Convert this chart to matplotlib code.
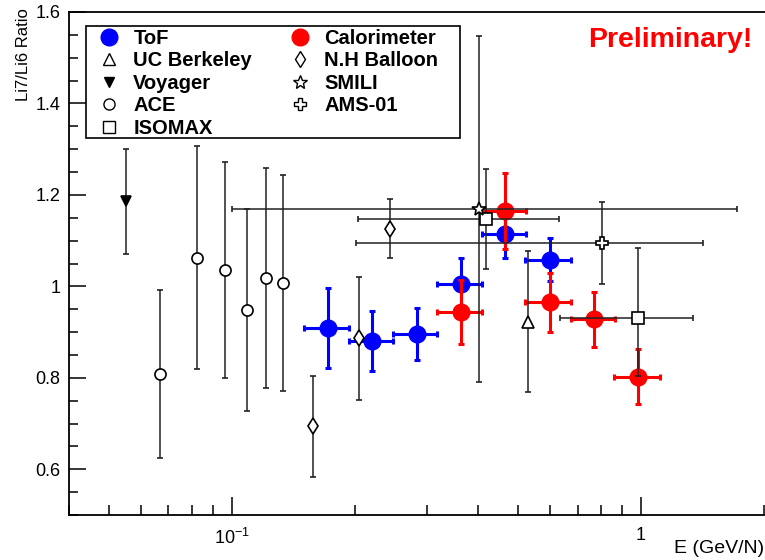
#!/usr/bin/env python3
"""Li7/Li6 isotope ratio versus kinetic energy per nucleon."""

import matplotlib
matplotlib.use('Agg')
from matplotlib import pyplot as plt
from matplotlib.lines import Line2D
from matplotlib.patches import Rectangle
from matplotlib.ticker import (FixedLocator, FixedFormatter, LogLocator,
                               MultipleLocator, NullFormatter, FuncFormatter)
import numpy as np


# ToF: energy bins, ratio and symmetric error
TOF_E = [0.1715, 0.2203, 0.2831, 0.3633, 0.4662, 0.5981]
TOF_LO = [0.150, 0.193, 0.248, 0.317, 0.408, 0.522]
TOF_HI = [0.193, 0.248, 0.318, 0.409, 0.525, 0.676]
TOF_RATIO = [0.909, 0.880, 0.896, 1.006, 1.115, 1.058]
TOF_ERR = [0.087, 0.066, 0.056, 0.055, 0.053, 0.047]

# Calorimeter
CAL_E = [0.3633, 0.4662, 0.5981, 0.7664, 0.985]
CAL_LO = [0.317, 0.408, 0.522, 0.673, 0.861]
CAL_HI = [0.409, 0.525, 0.676, 0.864, 1.113]
CAL_RATIO = [0.944, 1.165, 0.965, 0.928, 0.802]
CAL_ERR = [0.071, 0.084, 0.065, 0.060, 0.060]

# Earlier measurements: ratio with lower / upper error bar ends
UCB_E, UCB_RATIO, UCB_LOW, UCB_HIGH = [0.5285], [0.922], [0.770], [1.078]
VOY_E, VOY_RATIO, VOY_LOW, VOY_HIGH = [0.0550], [1.187], [1.070], [1.301]

ACE_E = [0.0669, 0.0821, 0.0962, 0.1092, 0.1213, 0.1332]
ACE_RATIO = [0.808, 1.063, 1.036, 0.948, 1.019, 1.008]
ACE_LOW = [0.625, 0.820, 0.800, 0.727, 0.778, 0.772]
ACE_HIGH = [0.992, 1.307, 1.272, 1.169, 1.259, 1.244]

NH_E = [0.1582, 0.2046, 0.2435]
NH_RATIO = [0.695, 0.886, 1.126]
NH_LOW = [0.583, 0.751, 1.061]
NH_HIGH = [0.803, 1.020, 1.192]

ISO_E = [0.4182, 0.9815]
ISO_LO = [0.2039, 0.633]
ISO_HI = [0.6316, 1.338]
ISO_RATIO = [1.147, 0.930]
ISO_LOW = [1.039, 0.805]
ISO_HIGH = [1.257, 1.083]

SMILI_E, SMILI_LO, SMILI_HI = [0.4019], [0.1003], [1.713]
SMILI_RATIO, SMILI_LOW, SMILI_HIGH = [1.169], [0.791], [1.548]

AMS_E, AMS_LO, AMS_HI = [0.8031], [0.2009], [1.415]
AMS_RATIO, AMS_LOW, AMS_HIGH = [1.095], [1.005], [1.184]

LABELS = ['ToF', 'UC Berkeley', 'Voyager', 'ACE', 'ISOMAX',
          'Calorimeter', 'N.H Balloon', 'SMILI', 'AMS-01']


def xerr(e, lo, hi):
    e = np.asarray(e)
    return [e - np.asarray(lo), np.asarray(hi) - e]


def yerr(r, low, high):
    r = np.asarray(r)
    return [r - np.asarray(low), np.asarray(high) - r]


def main():
    plt.rcParams['font.family'] = ['Liberation Sans', 'DejaVu Sans']
    plt.rcParams['mathtext.fontset'] = 'custom'
    plt.rcParams['mathtext.rm'] = 'Liberation Sans'
    plt.rcParams['mathtext.it'] = 'Liberation Sans'

    fig = plt.figure(figsize=(7.65, 5.6), dpi=100)
    ax = fig.add_axes([69 / 765, 45 / 560, 696 / 765, 503 / 560])

    big = dict(ls='none', lw=2.2, capsize=2.5, capthick=2.2, ms=12)
    ax.errorbar(TOF_E, TOF_RATIO, xerr=xerr(TOF_E, TOF_LO, TOF_HI),
                yerr=TOF_ERR, fmt='o', color='blue', zorder=3, **big)
    ax.errorbar(CAL_E, CAL_RATIO, xerr=xerr(CAL_E, CAL_LO, CAL_HI),
                yerr=CAL_ERR, fmt='o', color='red', zorder=4, **big)

    thin = dict(ls='none', color='black', ecolor='#222222', elinewidth=1.1,
                capsize=2.5, capthick=1.1, mfc='white', mec='black',
                mew=1.2, zorder=5)
    ax.errorbar(UCB_E, UCB_RATIO, yerr=yerr(UCB_RATIO, UCB_LOW, UCB_HIGH),
                marker='^', ms=8, **thin)
    ax.errorbar(VOY_E, VOY_RATIO, yerr=yerr(VOY_RATIO, VOY_LOW, VOY_HIGH),
                marker='v', ms=7.5, **{**thin, 'mfc': 'black'})
    ax.errorbar(ACE_E, ACE_RATIO, yerr=yerr(ACE_RATIO, ACE_LOW, ACE_HIGH),
                marker='o', ms=8, **thin)
    ax.errorbar(NH_E, NH_RATIO, yerr=yerr(NH_RATIO, NH_LOW, NH_HIGH),
                marker='d', ms=8, **thin)
    ax.errorbar(ISO_E, ISO_RATIO, xerr=xerr(ISO_E, ISO_LO, ISO_HI),
                yerr=yerr(ISO_RATIO, ISO_LOW, ISO_HIGH),
                marker='s', ms=8.5, **thin)
    ax.errorbar(SMILI_E, SMILI_RATIO, xerr=xerr(SMILI_E, SMILI_LO, SMILI_HI),
                yerr=yerr(SMILI_RATIO, SMILI_LOW, SMILI_HIGH),
                marker='*', ms=10, **thin)
    ax.errorbar(AMS_E, AMS_RATIO, xerr=xerr(AMS_E, AMS_LO, AMS_HI),
                yerr=yerr(AMS_RATIO, AMS_LOW, AMS_HIGH),
                marker='P', ms=9, **thin)

    ax.set_xscale('log')
    ax.set_xlim(0.04, 2.01)
    ax.set_ylim(0.5, 1.6)

    ax.xaxis.set_major_locator(FixedLocator([0.1, 1]))
    ax.xaxis.set_major_formatter(FixedFormatter(['$10^{-1}$', '1']))
    ax.xaxis.set_minor_locator(LogLocator(base=10, subs=np.arange(2, 10)))
    ax.xaxis.set_minor_formatter(NullFormatter())
    ax.yaxis.set_major_locator(MultipleLocator(0.2))
    ax.yaxis.set_minor_locator(MultipleLocator(0.05))
    ax.yaxis.set_major_formatter(FuncFormatter(lambda v, _: '{:g}'.format(v)))

    ax.tick_params(which='both', direction='in', top=False, right=False,
                   width=1.1, labelsize=13)
    ax.tick_params(axis='x', which='major', length=13, pad=9)
    ax.tick_params(axis='x', which='minor', length=7)
    ax.tick_params(axis='y', which='major', length=12, pad=6)
    ax.tick_params(axis='y', which='minor', length=6.5)
    for spine in ax.spines.values():
        spine.set_linewidth(1.3)
    ax.spines['right'].set_visible(False)

    fig.text(0.999, 0.021, 'E (GeV/N)', fontsize=14, ha='right', va='center')
    fig.text(0.031, 0.985, 'Li7/Li6 Ratio', fontsize=12, rotation=90,
             ha='center', va='top')
    ax.text(0.864, 0.944, 'Preliminary!', transform=ax.transAxes,
            color='red', fontsize=20.5, fontweight='bold',
            ha='center', va='center')

    # legend box, then the entries inside it
    ax.add_patch(Rectangle((17 / 696, 377 / 503), 374 / 696, 112 / 503,
                           transform=ax.transAxes, facecolor='white',
                           edgecolor='black', lw=1.2, zorder=9))
    handles = [
        Line2D([], [], ls='none', marker='o', ms=12, color='blue'),
        Line2D([], [], ls='none', marker='^', ms=8, mfc='white', mec='black'),
        Line2D([], [], ls='none', marker='v', ms=7.5, color='black'),
        Line2D([], [], ls='none', marker='o', ms=8, mfc='white', mec='black'),
        Line2D([], [], ls='none', marker='s', ms=8.5, mfc='white', mec='black'),
        Line2D([], [], ls='none', marker='o', ms=12, color='red'),
        Line2D([], [], ls='none', marker='d', ms=8, mfc='white', mec='black'),
        Line2D([], [], ls='none', marker='*', ms=10, mfc='white', mec='black'),
        Line2D([], [], ls='none', marker='P', ms=9, mfc='white', mec='black'),
    ]
    leg = ax.legend(handles, LABELS, ncol=2, loc='upper left',
                    bbox_to_anchor=(25 / 696, 486 / 503),
                    borderaxespad=0, frameon=False,
                    prop={'weight': 'bold', 'size': 14.5},
                    handlelength=1.5, handletextpad=0.45, columnspacing=1.64,
                    labelspacing=0.17, borderpad=0)
    leg.set_zorder(10)

    fig.savefig('out.png', dpi=100)


if __name__ == '__main__':
    main()
